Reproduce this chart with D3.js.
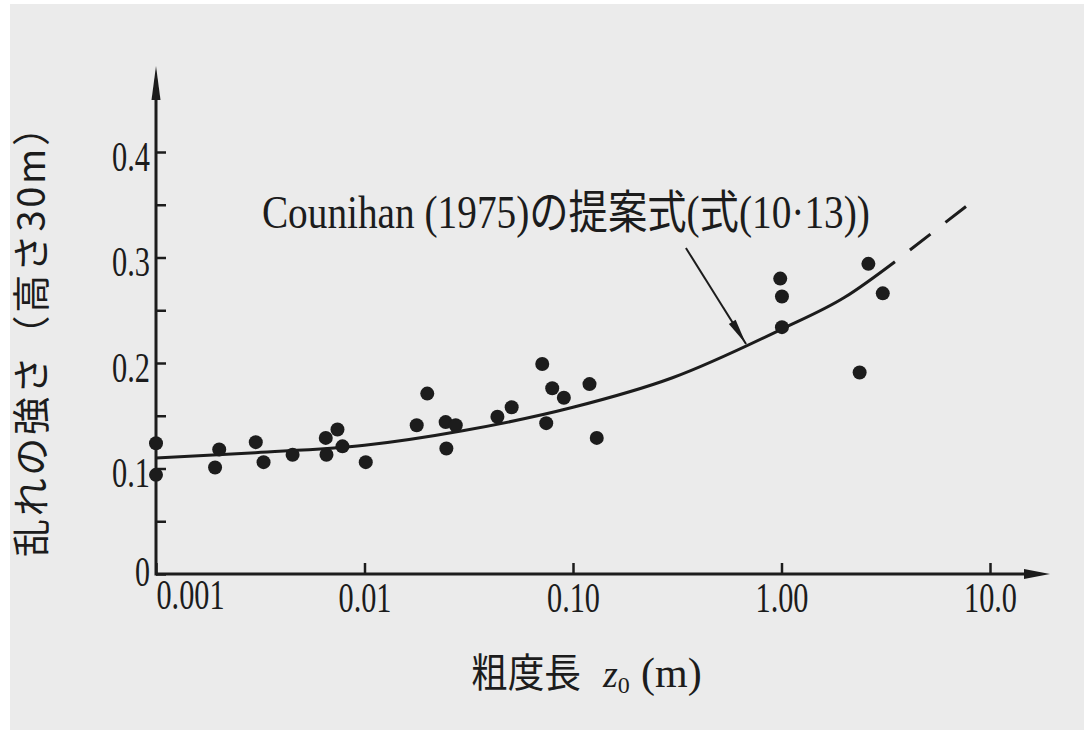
<!DOCTYPE html>
<html>
<head>
<meta charset="utf-8">
<script src="https://cdn.jsdelivr.net/npm/d3@7"></script>
<style>
  html, body { margin: 0; padding: 0; background: #fff; }
  svg { display: block; }
</style>
</head>
<body>
<script>
const width = 1088;
const height = 732;

// axis ticks
const xTickValues = [0.001, 0.01, 0.1, 1, 10];
const xTickLabels = ['0.001', '0.01', '0.10', '1.00', '10.0'];
const yTickValues = [0, 0.1, 0.2, 0.3, 0.4];
const yTickLabels = ['0', '0.1', '0.2', '0.3', '0.4'];
const yMinorTicks = [0.05, 0.15, 0.25, 0.35];

// measured points (roughness length z0, turbulence intensity)
const pointX = [0.001, 0.001, 0.00201, 0.00192, 0.00301, 0.00328, 0.00452, 0.00652, 0.00657, 0.00742,
  0.00784, 0.01014, 0.0178, 0.0200, 0.0245, 0.0274, 0.0247, 0.0434, 0.0508, 0.0712,
  0.0744, 0.0795, 0.0904, 0.120, 0.130, 0.986, 1.005, 1.005, 2.61, 3.06, 2.37];
const pointY = [0.124, 0.094, 0.118, 0.101, 0.125, 0.106, 0.113, 0.129, 0.113, 0.137,
  0.121, 0.106, 0.141, 0.171, 0.144, 0.141, 0.119, 0.149, 0.158, 0.199,
  0.143, 0.176, 0.167, 0.180, 0.129, 0.280, 0.263, 0.234, 0.294, 0.266, 0.191];

// Counihan (1975) curve
const curveX = [0.001, 0.003, 0.01, 0.03, 0.1, 0.3, 1, 2, 3.5];
const curveY = [0.110, 0.115, 0.122, 0.136, 0.158, 0.186, 0.232, 0.262, 0.296];
const dashX = [3.5, 8.1];
const dashY = [0.296, 0.352];

// annotation
const noteText = 'Counihan (1975)の提案式(式(10·13))';
const noteAt = [0.00322, 0.328];
const arrowFrom = [0.348, 0.309];
const arrowTo = [0.676, 0.218];

const ink = '#1c1c1c';
const serif = '"Liberation Serif", "Noto Sans CJK JP", serif';

const svg = d3.select('body').append('svg').attr('width', width).attr('height', height);

svg.append('rect')
  .attr('x', 10).attr('y', 4)
  .attr('width', width - 14).attr('height', height - 6)
  .attr('fill', '#ebebeb');

const x = d3.scaleLog().domain([0.001, 10]).range([156, 990]);
const y = d3.scaleLinear().domain([0, 0.4]).range([574, 152]);

const labelWidth = s => [...s].reduce((w, c) => w + (c === '.' ? 8 : 15), 0);

// x axis
const xAxis = svg.append('g')
  .attr('transform', `translate(0,${y(0)})`)
  .call(d3.axisBottom(x)
    .tickValues(xTickValues)
    .tickFormat((d, i) => xTickLabels[i])
    .tickSizeInner(-11)
    .tickSizeOuter(0));
xAxis.select('.domain').remove();
xAxis.selectAll('.tick line').attr('stroke', ink).attr('stroke-width', 2.5);
xAxis.selectAll('.tick text')
  .attr('y', 38).attr('dy', null)
  .attr('fill', ink)
  .style('font-family', serif).style('font-size', '42px')
  .attr('textLength', d => labelWidth(xTickLabels[xTickValues.indexOf(d)]))
  .attr('lengthAdjust', 'spacingAndGlyphs')
  .filter(d => d === 0.001)
  .attr('text-anchor', 'start').attr('x', 0).attr('y', 35);

// y axis
const yAxis = svg.append('g')
  .attr('transform', `translate(${x(0.001)},0)`)
  .call(d3.axisLeft(y)
    .tickValues(yTickValues.concat(yMinorTicks))
    .tickFormat(d => {
      const i = yTickValues.indexOf(d);
      return i < 0 ? '' : yTickLabels[i];
    })
    .tickSizeInner(-10)
    .tickSizeOuter(0)
    .tickPadding(6));
yAxis.select('.domain').remove();
yAxis.selectAll('.tick line').attr('stroke', ink).attr('stroke-width', 2.5);
yAxis.selectAll('.tick text')
  .attr('dy', null).attr('y', d => d === 0 ? 11 : 18)
  .attr('fill', ink)
  .style('font-family', serif).style('font-size', '42px')
  .filter(d => yTickValues.includes(d))
  .attr('textLength', d => labelWidth(yTickLabels[yTickValues.indexOf(d)]))
  .attr('lengthAdjust', 'spacingAndGlyphs');

// axis lines with arrow heads
const x0 = x(0.001), y0 = y(0);
svg.append('line').attr('x1', x0).attr('y1', y0).attr('x2', 1030).attr('y2', y0)
  .attr('stroke', ink).attr('stroke-width', 3);
svg.append('path').attr('d', `M1050,${y0} L1024,${y0 - 5} L1024,${y0 + 5} Z`).attr('fill', ink);
svg.append('line').attr('x1', x0).attr('y1', y0 + 1.5).attr('x2', x0).attr('y2', 90)
  .attr('stroke', ink).attr('stroke-width', 3);
svg.append('path').attr('d', `M${x0},66 L${x0 - 4.5},100 L${x0 + 4.5},100 Z`).attr('fill', ink);

// curve
const line = d3.line().x(d => x(d[0])).y(d => y(d[1])).curve(d3.curveMonotoneX);
svg.append('path')
  .datum(curveX.map((v, i) => [v, curveY[i]]))
  .attr('d', line)
  .attr('fill', 'none').attr('stroke', ink).attr('stroke-width', 3);
svg.append('path')
  .datum(dashX.map((v, i) => [v, dashY[i]]))
  .attr('d', d3.line().x(d => x(d[0])).y(d => y(d[1])))
  .attr('fill', 'none').attr('stroke', ink).attr('stroke-width', 3)
  .attr('stroke-dasharray', '26,19').attr('stroke-dashoffset', 26);

// points
svg.append('g')
  .selectAll('circle')
  .data(pointX.map((v, i) => [v, pointY[i]]))
  .enter()
  .append('circle')
  .attr('cx', d => x(d[0]))
  .attr('cy', d => y(d[1]))
  .attr('r', 7)
  .attr('fill', ink);

// annotation
svg.append('text')
  .attr('x', x(noteAt[0])).attr('y', y(noteAt[1]))
  .attr('fill', ink)
  .style('font-family', serif).style('font-size', '46px')
  .attr('textLength', 608).attr('lengthAdjust', 'spacingAndGlyphs')
  .text(noteText);

const ax1 = x(arrowFrom[0]), ay1 = y(arrowFrom[1]);
const ax2 = x(arrowTo[0]), ay2 = y(arrowTo[1]);
svg.append('line').attr('x1', ax1).attr('y1', ay1).attr('x2', ax2).attr('y2', ay2)
  .attr('stroke', ink).attr('stroke-width', 2);
const ang = Math.atan2(ay2 - ay1, ax2 - ax1);
const hl = 26, hw = 4;
const bx = ax2 - hl * Math.cos(ang), by = ay2 - hl * Math.sin(ang);
svg.append('path')
  .attr('d', `M${ax2},${ay2} L${bx + hw * Math.sin(ang)},${by - hw * Math.cos(ang)} L${bx - hw * Math.sin(ang)},${by + hw * Math.cos(ang)} Z`)
  .attr('fill', ink);

// axis titles
svg.append('text')
  .attr('transform', 'translate(45,557) rotate(-90)')
  .attr('fill', ink)
  .style('font-family', '"Noto Sans CJK JP", sans-serif').style('font-size', '38px')
  .attr('textLength', 449).attr('lengthAdjust', 'spacing')
  .text('乱れの強さ（高さ30m）');

const xt = svg.append('text')
  .attr('x', 471).attr('y', 687)
  .attr('fill', ink)
  .style('font-family', '"Noto Sans CJK JP", sans-serif').style('font-size', '40px');
xt.append('tspan').attr('textLength', 110).attr('lengthAdjust', 'spacingAndGlyphs').text('粗度長');
xt.append('tspan').attr('x', 603).style('font-family', serif).style('font-style', 'italic').style('font-size', '38px').text('z');
xt.append('tspan').attr('dy', 6).style('font-family', serif).style('font-size', '24px').text('0');
xt.append('tspan').attr('x', 641).attr('dy', -6).style('font-family', serif).style('font-size', '42px').text('(m)');
</script>
</body>
</html>
